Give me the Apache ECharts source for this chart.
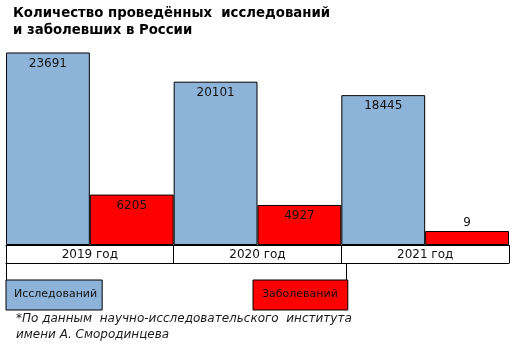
<!DOCTYPE html>
<html>
<head>
<meta charset="utf-8">
<script src="https://cdn.jsdelivr.net/npm/echarts@6/dist/echarts.min.js"></script>
<style>html,body{margin:0;padding:0;background:#fff}#c{width:517px;height:345px}</style>
</head>
<body>
<div id="c"></div>
<script>
const categories = ['2019 год', '2020 год', '2021 год'];
const studies = [23691, 20101, 18445];
const cases = [6205, 4927, 9];
const seriesNames = ['Исследований', 'Заболеваний'];
const titleText = 'Количество проведённых  исследований\nи заболевших в России';
const noteText = '*По данным  научно-исследовательского  института\nимени А. Смородинцева';

const FONT = '"DejaVu Sans", Verdana, sans-serif';
const BLUE = '#8db3d9';
const RED = '#ff0000';

const chart = echarts.init(document.getElementById('c'), null, {renderer: 'canvas'});

function labelled(values) {
  return values.map(v => v < 500 ? {value: v, label: {position: 'top', distance: 2}} : v);
}

const baseLabel = {show: true, position: 'insideTop', distance: 5, fontSize: 12, color: '#111', fontFamily: FONT};

chart.setOption({
  animation: false,
  backgroundColor: '#fff',
  title: [
    {text: titleText, left: 8, top: 0,
     textStyle: {fontFamily: FONT, fontSize: 13.3, fontWeight: 'bold', color: '#000', lineHeight: 17}},
    {text: noteText, left: 11, top: 306,
     textStyle: {fontFamily: FONT, fontSize: 12, fontWeight: 'normal', fontStyle: 'italic', color: '#1a1a1a', lineHeight: 16}}
  ],
  legend: [
    {data: [seriesNames[0]], left: 6, top: 280, icon: 'none', itemWidth: 0, itemHeight: 0, itemGap: 0,
     padding: [9, 5, 10, 3], backgroundColor: BLUE, borderColor: '#000', borderWidth: 1,
     textStyle: {fontFamily: FONT, fontSize: 11, color: '#111'}, selectedMode: false},
    {data: [seriesNames[1]], left: 253, top: 280, icon: 'none', itemWidth: 0, itemHeight: 0, itemGap: 0,
     padding: [9, 10, 10, 4], backgroundColor: RED, borderColor: '#000', borderWidth: 1,
     textStyle: {fontFamily: FONT, fontSize: 11, color: '#111'}, selectedMode: false}
  ],
  grid: {left: 6, right: 8, top: 50, bottom: 100, containLabel: false},
  xAxis: [
    {type: 'category', data: categories, position: 'bottom',
     axisLine: {show: true, lineStyle: {color: '#000', width: 1}},
     axisTick: {show: true, interval: 0, length: 18, lineStyle: {color: '#000', width: 1}},
     axisLabel: {margin: 4, fontSize: 12, color: '#111', fontFamily: FONT, interval: 0}},
    {type: 'category', data: categories, position: 'bottom', offset: 18,
     axisLine: {show: true, lineStyle: {color: '#000', width: 1}},
     axisTick: {show: false}, axisLabel: {show: false}}
  ],
  yAxis: {type: 'value', min: 0, max: 24000, show: false, splitLine: {show: false}},
  series: [
    {name: seriesNames[0], type: 'bar', data: labelled(studies), barGap: '0%', barCategoryGap: '0%',
     itemStyle: {color: BLUE, borderColor: '#000', borderWidth: 1}, label: baseLabel},
    {name: seriesNames[1], type: 'bar', data: labelled(cases), barMinHeight: 14,
     itemStyle: {color: RED, borderColor: '#000', borderWidth: 1}, label: baseLabel}
  ],
  graphic: [
    {type: 'line', shape: {x1: 6.5, y1: 263, x2: 6.5, y2: 280}, style: {stroke: '#000', lineWidth: 1}},
    {type: 'line', shape: {x1: 346.5, y1: 263, x2: 346.5, y2: 280}, style: {stroke: '#000', lineWidth: 1}}
  ]
});
</script>
</body>
</html>
